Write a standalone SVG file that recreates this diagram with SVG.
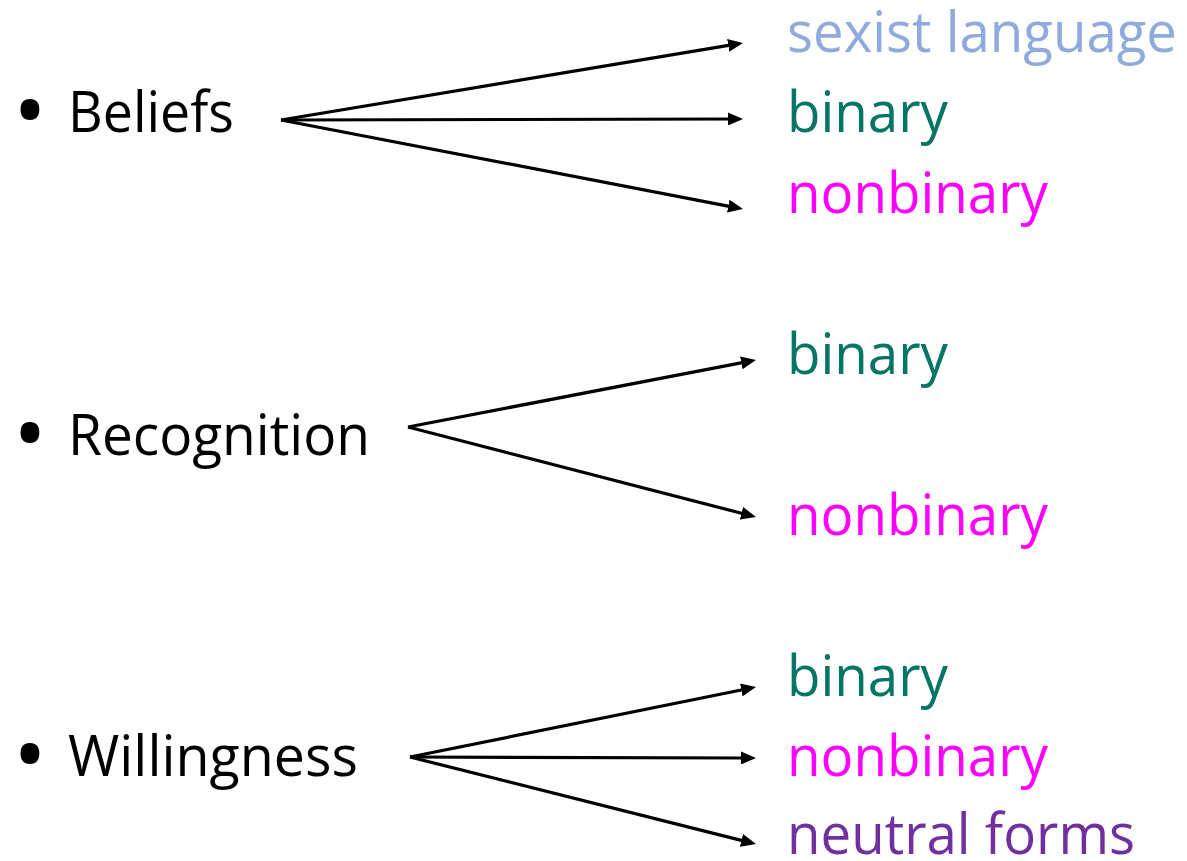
<svg xmlns="http://www.w3.org/2000/svg" width="1187" height="861" viewBox="0 0 1187 861">
  <style>
    text { font-family: "Open Sans", "Noto Sans", "Liberation Sans", sans-serif; font-size: 56px; }
    .label { fill: #000000; }
    .bullet { fill: #000000; font-size: 90px; }
    .sexist { fill: #8FAADC; }
    .binary { fill: #067563; }
    .nonbinary { fill: #FF00FF; }
    .neutral { fill: #7030A0; }
    .conn line { stroke: #000000; stroke-width: 3.2; fill: none; marker-end: url(#arrow); }
  </style>
  <defs>
    <marker id="arrow" markerUnits="userSpaceOnUse" markerWidth="17" markerHeight="13" refX="5" refY="6.5" orient="auto">
      <path d="M0,0 L15,6.5 L0,13 z" fill="#000000"/>
    </marker>
  </defs>

  <rect width="1187" height="861" fill="#ffffff"/>

  <!-- left-hand bullet items -->
  <g id="beliefs">
    <text class="bullet" x="13" y="142">•</text>
    <text class="label" x="68" y="132" textLength="166" lengthAdjust="spacingAndGlyphs">Beliefs</text>
  </g>
  <g id="recognition">
    <text class="bullet" x="13" y="465">•</text>
    <text class="label" x="68" y="455" textLength="302" lengthAdjust="spacingAndGlyphs">Recognition</text>
  </g>
  <g id="willingness">
    <text class="bullet" x="13" y="786">•</text>
    <text class="label" x="68" y="776" textLength="290" lengthAdjust="spacingAndGlyphs">Willingness</text>
  </g>

  <!-- right-hand outcomes -->
  <g id="beliefs-sexist"><text class="sexist" x="787" y="52" textLength="390" lengthAdjust="spacingAndGlyphs">sexist language</text></g>
  <g id="beliefs-binary"><text class="binary" x="787" y="132" textLength="161" lengthAdjust="spacingAndGlyphs">binary</text></g>
  <g id="beliefs-nonbinary"><text class="nonbinary" x="787" y="213" textLength="261" lengthAdjust="spacingAndGlyphs">nonbinary</text></g>

  <g id="recognition-binary"><text class="binary" x="787" y="374" textLength="161" lengthAdjust="spacingAndGlyphs">binary</text></g>
  <g id="recognition-nonbinary"><text class="nonbinary" x="787" y="535" textLength="261" lengthAdjust="spacingAndGlyphs">nonbinary</text></g>

  <g id="willingness-binary"><text class="binary" x="787" y="696" textLength="161" lengthAdjust="spacingAndGlyphs">binary</text></g>
  <g id="willingness-nonbinary"><text class="nonbinary" x="787" y="776" textLength="261" lengthAdjust="spacingAndGlyphs">nonbinary</text></g>
  <g id="willingness-neutral"><text class="neutral" x="787" y="854" textLength="348" lengthAdjust="spacingAndGlyphs">neutral forms</text></g>

  <!-- connectors -->
  <g id="connectors" class="conn">
    <line x1="281" y1="120" x2="733.1" y2="44.6"/>
    <line x1="281" y1="120" x2="733" y2="119"/>
    <line x1="281" y1="120" x2="733.2" y2="207.1"/>

    <line x1="408" y1="427" x2="746.2" y2="361.9"/>
    <line x1="408" y1="427" x2="746.3" y2="514.5"/>

    <line x1="410" y1="757" x2="746.2" y2="689"/>
    <line x1="410" y1="757" x2="746" y2="758"/>
    <line x1="410" y1="757" x2="746.3" y2="841.6"/>
  </g>
</svg>
